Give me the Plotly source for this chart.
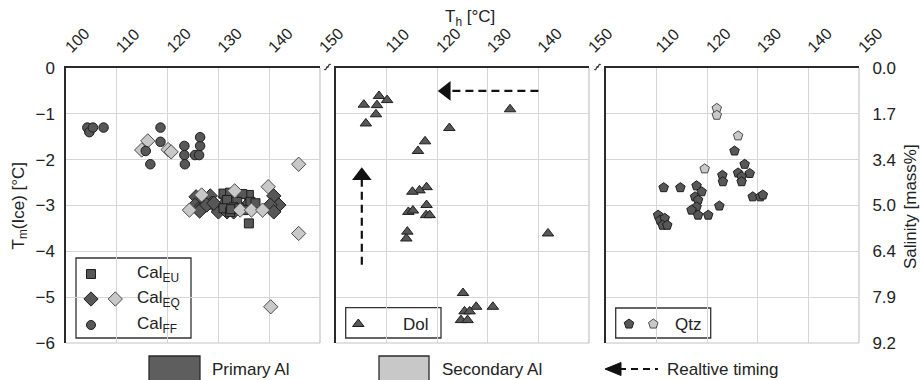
import plotly.graph_objects as go

# ---------------- data ----------------
# Panel 1: Calcite
cal_eu_x = [131.0, 132.3, 136.0, 134.7, 131.7, 133.7, 136.3, 137.3, 131.0, 133.0, 135.0, 136.0, 132.3, 132.5, 134.1]
cal_eu_y = [-2.74, -2.72, -2.77, -2.75, -2.88, -2.92, -2.92, -2.95, -3.06, -3.04, -3.10, -3.39, -3.14, -3.08, -3.06]

cal_eq_pri_x = [125.6, 126.4, 125.4, 126.1, 128.4, 128.7, 127.1, 130.0, 131.4, 131.0, 131.7, 133.0, 135.3, 140.9, 141.9, 140.2, 140.9, 126.3, 127.7, 129.1]
cal_eq_pri_y = [-2.81, -2.95, -2.99, -3.08, -2.79, -2.95, -3.03, -3.14, -2.81, -2.99, -3.14, -3.14, -3.03, -2.79, -2.99, -2.99, -3.14, -3.12, -2.99, -2.95]

cal_eq_sec_x = [116.1, 114.9, 120.1, 120.7, 145.8, 139.8, 145.8, 140.3, 124.3, 133.2, 134.3, 136.5, 138.7, 126.7]
cal_eq_sec_y = [-1.59, -1.79, -1.78, -1.83, -2.10, -2.59, -3.61, -5.21, -3.10, -2.68, -3.10, -3.10, -3.10, -2.77]

cal_ff_x = [104.2, 104.6, 105.3, 107.4, 115.7, 116.6, 118.6, 118.6, 123.3, 123.3, 123.4, 125.4, 126.2, 126.4, 126.4]
cal_ff_y = [-1.30, -1.40, -1.30, -1.30, -1.81, -2.10, -1.30, -1.61, -1.70, -1.90, -2.10, -1.90, -1.90, -1.70, -1.51]

# Panel 2: Dolomite
dol_x = [105.5, 108.5, 108.1, 110.1, 107.9, 105.9, 134.4, 122.4, 117.6, 116.2, 117.9, 116.5, 115.1,
         114.3, 115.2, 117.9, 117.8, 118.5, 114.1, 113.9, 141.9, 125.1, 127.7, 131.0, 125.4, 126.4, 124.7, 126.0]
dol_y = [-0.80, -0.61, -0.81, -0.70, -1.01, -1.21, -0.90, -1.31, -1.60, -1.81, -2.60, -2.67, -2.70,
         -3.14, -3.11, -2.99, -3.21, -3.21, -3.57, -3.72, -3.61, -4.91, -5.21, -5.21, -5.31, -5.31, -5.50, -5.50]

# Panel 3: Quartz
qtz_pri_x = [125.4, 127.4, 126.1, 128.4, 126.8, 126.8, 123.0, 123.1, 111.4, 114.7, 117.9, 118.9, 117.6, 118.2,
             117.9, 116.9, 118.2, 120.2, 122.4, 129.0, 130.5, 131.0, 110.3, 110.7, 111.6, 111.2, 112.1]
qtz_pri_y = [-1.81, -2.10, -2.29, -2.30, -2.37, -2.48, -2.34, -2.48, -2.61, -2.61, -2.57, -2.70, -2.81, -2.88,
             -3.03, -3.10, -3.21, -3.21, -3.01, -2.81, -2.81, -2.77, -3.21, -3.32, -3.28, -3.43, -3.43]
qtz_sec_x = [121.9, 121.9, 126.1, 119.5]
qtz_sec_y = [-0.88, -1.03, -1.48, -2.20]

# Axes / ticks
y_ticks = [0, -1, -2, -3, -4, -5, -6]
y_ticktext = ["0", "−1", "−2", "−3", "−4", "−5", "−6"]
salinity_ticktext = ["0.0", "1.7", "3.4", "5.0", "6.4", "7.9", "9.2"]
x_ticks_first = [100, 110, 120, 130, 140, 150]
x_ticks_other = [110, 120, 130, 140, 150]

# Relative timing arrows (panel 2): [x_start, x_end], [y_start, y_end]
arrow_h_x = [140.0, 121.8]
arrow_h_y = [-0.50, -0.50]
arrow_v_x = [105.1, 105.1]
arrow_v_y = [-4.29, -2.35]

# ---------------- style ----------------
DARK = "#575757"
DARK_EDGE = "#1e1e1e"
LIGHT = "#c8c8c8"
LIGHT_EDGE = "#4a4a4a"
TXT = "#222222"
GRID = "#d6d6d6"
FONT = "Liberation Sans"

W, H = 920, 380
L, R, T, B = 66, 61, 68, 37
PW = W - L - R  # 793
PH = H - T - B  # 275
panel_px = [(66, 320), (336, 589), (606, 859)]


def px2x(panel, px):
    a, b = panel_px[panel]
    return 100 + (px - a) * 50.0 / (b - a)


def py2y(py):
    return -(py - T) * 6.0 / PH


def ppx(px):
    return (px - L) / PW


def ppy(py):
    return (H - B - py) / PH


fig = go.Figure()


def add_scatter(x, y, panel, symbol, size, fill, edge, lw=1.0):
    fig.add_trace(go.Scatter(
        x=x, y=y, mode="markers",
        xaxis="x" if panel == 0 else f"x{panel+1}",
        yaxis="y" if panel == 0 else f"y{panel+1}",
        marker=dict(symbol=symbol, size=size, color=fill, line=dict(color=edge, width=lw)),
        showlegend=False, hoverinfo="skip"))


# data marks
add_scatter(cal_eq_pri_x, cal_eq_pri_y, 0, "diamond", 11, DARK, DARK_EDGE)
add_scatter(cal_eu_x, cal_eu_y, 0, "square", 9, DARK, DARK_EDGE)
add_scatter(cal_eq_sec_x, cal_eq_sec_y, 0, "diamond", 11, LIGHT, LIGHT_EDGE)
add_scatter(cal_ff_x, cal_ff_y, 0, "circle", 9.5, DARK, DARK_EDGE)
add_scatter(dol_x, dol_y, 1, "triangle-up", 10, DARK, DARK_EDGE)
add_scatter(qtz_pri_x, qtz_pri_y, 2, "pentagon", 10, DARK, DARK_EDGE)
add_scatter(qtz_sec_x, qtz_sec_y, 2, "pentagon", 10, LIGHT, LIGHT_EDGE)

# relative-timing arrows in panel 2
fig.add_trace(go.Scatter(x=arrow_h_x, y=arrow_h_y, mode="lines", xaxis="x2", yaxis="y2",
                         line=dict(color="#111", width=2.2, dash="8px,5px"), showlegend=False, hoverinfo="skip"))
fig.add_trace(go.Scatter(x=[arrow_h_x[1]], y=[arrow_h_y[1]], mode="markers", xaxis="x2", yaxis="y2",
                         marker=dict(symbol="triangle-left", size=17, color="#111", line=dict(width=0)),
                         showlegend=False, hoverinfo="skip"))
fig.add_trace(go.Scatter(x=arrow_v_x, y=arrow_v_y, mode="lines", xaxis="x2", yaxis="y2",
                         line=dict(color="#111", width=2.2, dash="8px,5px"), showlegend=False, hoverinfo="skip"))
fig.add_trace(go.Scatter(x=[arrow_v_x[1]], y=[arrow_v_y[1]], mode="markers", xaxis="x2", yaxis="y2",
                         marker=dict(symbol="triangle-up", size=17, color="#111", line=dict(width=0)),
                         showlegend=False, hoverinfo="skip"))

# in-panel legend symbols
add_scatter([px2x(0, 91)], [py2y(274)], 0, "square", 9, DARK, DARK_EDGE)
add_scatter([px2x(0, 91)], [py2y(299)], 0, "diamond", 11, DARK, DARK_EDGE)
add_scatter([px2x(0, 115.3)], [py2y(299)], 0, "diamond", 11, LIGHT, LIGHT_EDGE)
add_scatter([px2x(0, 91)], [py2y(325)], 0, "circle", 9, DARK, DARK_EDGE)
add_scatter([px2x(1, 358.3)], [py2y(324)], 1, "triangle-up", 10, DARK, DARK_EDGE)
add_scatter([px2x(2, 629)], [py2y(324)], 2, "pentagon", 10, DARK, DARK_EDGE)
add_scatter([px2x(2, 653.3)], [py2y(324)], 2, "pentagon", 10, LIGHT, LIGHT_EDGE)

# invisible trace for salinity axis
fig.add_trace(go.Scatter(x=[120], y=[-3], mode="markers", xaxis="x3", yaxis="y4",
                         marker=dict(opacity=0), showlegend=False, hoverinfo="skip"))

layout = dict(
    width=W, height=H,
    margin=dict(l=L, r=R, t=T, b=B, pad=0),
    paper_bgcolor="white", plot_bgcolor="white",
    font=dict(family=FONT, size=16, color=TXT),
    showlegend=False,
)

ann = []

for i, (a, b) in enumerate(panel_px):
    xs = "xaxis" if i == 0 else f"xaxis{i+1}"
    ys = "yaxis" if i == 0 else f"yaxis{i+1}"
    yn = "y" if i == 0 else f"y{i+1}"
    xn = "x" if i == 0 else f"x{i+1}"
    tv = x_ticks_first if i == 0 else x_ticks_other
    layout[xs] = dict(
        domain=[ppx(a), ppx(b)], range=[100, 150], side="top", anchor=yn,
        tickmode="array", tickvals=tv, ticktext=[str(v) for v in tv],
        tickangle=-45, tickfont=dict(family=FONT, size=16, color=TXT),
        ticks="outside", ticklen=4, tickcolor="rgba(0,0,0,0)",
        showgrid=True, gridcolor=GRID, gridwidth=1,
        showline=True, linecolor="#2a2a2a", linewidth=1.5,
        zeroline=False)
    layout[ys] = dict(
        domain=[0, 1], range=[-6, 0], anchor=xn,
        tickvals=y_ticks, ticktext=y_ticktext, showticklabels=(i == 0),
        tickfont=dict(family=FONT, size=17, color=TXT),
        showgrid=True, gridcolor=GRID, gridwidth=1,
        showline=True, linecolor="#2a2a2a", linewidth=1.5,
        ticks="outside" if i == 0 else "", ticklen=6, tickcolor="rgba(0,0,0,0)",
        zeroline=False)

layout["yaxis4"] = dict(
    overlaying="y3", side="right", anchor="x3", range=[-6, 0],
    tickvals=y_ticks, ticktext=salinity_ticktext, tickfont=dict(family=FONT, size=17, color=TXT),
    showgrid=False, showline=False, zeroline=False,
    ticks="outside", ticklen=9, tickcolor="rgba(0,0,0,0)")

shapes = []
# gray right & bottom frame for each panel
for i, (a, b) in enumerate(panel_px):
    shapes.append(dict(type="line", xref="paper", yref="paper", x0=ppx(b), x1=ppx(b), y0=0, y1=1,
                       line=dict(color="#c4c4c4", width=1.2), layer="below"))
    shapes.append(dict(type="line", xref="paper", yref="paper", x0=ppx(a), x1=ppx(b), y0=0, y1=0,
                       line=dict(color="#c4c4c4", width=1.2), layer="below"))

# in-panel legend boxes
for (x0, x1, y0, y1) in [(76, 191, 258, 338), (345.7, 441, 307.7, 338), (615.7, 710.7, 308, 338)]:
    shapes.append(dict(type="rect", xref="paper", yref="paper",
                       x0=ppx(x0), x1=ppx(x1), y0=ppy(y1), y1=ppy(y0),
                       line=dict(color="#333", width=1.3), fillcolor="white", layer="between"))

# axis-break squiggles at top
for cx in [327.5, 597.5]:
    x0, x1 = ppx(cx - 3), ppx(cx + 3)
    xm = ppx(cx)
    path = (f"M {x0},{ppy(69)} C {ppx(cx-1.5)},{ppy(72)} {ppx(cx-0.5)},{ppy(65)} {xm},{ppy(67)} "
            f"C {ppx(cx+0.5)},{ppy(69)} {ppx(cx+1.5)},{ppy(62)} {x1},{ppy(65)}")
    shapes.append(dict(type="path", xref="paper", yref="paper", path=path,
                       line=dict(color="#333", width=1.2)))

# bottom legend boxes
shapes.append(dict(type="rect", xref="paper", yref="paper", x0=ppx(149), x1=ppx(200), y0=ppy(384), y1=ppy(356),
                   line=dict(color="#2a2a2a", width=1.3), fillcolor="#5e5e5e"))
shapes.append(dict(type="rect", xref="paper", yref="paper", x0=ppx(379), x1=ppx(429), y0=ppy(384), y1=ppy(356),
                   line=dict(color="#2a2a2a", width=1.3), fillcolor="#c8c8c8"))
# bottom legend arrow
shapes.append(dict(type="line", xref="paper", yref="paper", x0=ppx(619), x1=ppx(658), y0=ppy(369), y1=ppy(369),
                   line=dict(color="#111", width=2.2, dash="7px,5px")))
shapes.append(dict(type="path", xref="paper", yref="paper",
                   path=f"M {ppx(605)},{ppy(369)} L {ppx(621)},{ppy(362.5)} L {ppx(621)},{ppy(375.5)} Z",
                   fillcolor="#111", line=dict(color="#111", width=1)))
layout["shapes"] = shapes


def add_text(text, px, py, size=17, xanchor="left", yanchor="middle", angle=0):
    ann.append(dict(text=text, x=ppx(px), y=ppy(py), xref="paper", yref="paper", showarrow=False,
                    xanchor=xanchor, yanchor=yanchor, textangle=angle,
                    font=dict(family=FONT, size=size, color=TXT)))


add_text("T<sub>h</sub> [°C]", 470, 18, 17, xanchor="center")
add_text("T<sub>m</sub>(Ice) [°C]", 19, 205.5, 17, xanchor="center", angle=-90)
add_text("Salinity [mass%]", 911, 207, 17, xanchor="center", angle=-90)
add_text("Cal<sub>EU</sub>", 135, 274)
add_text("Cal<sub>EQ</sub>", 135, 299)
add_text("Cal<sub>FF</sub>", 135, 325)
add_text("Dol", 431, 324, xanchor="right")
add_text("Qtz", 673, 324)
add_text("Primary Al", 210, 369)
add_text("Secondary Al", 440, 369)
add_text("Realtive timing", 665, 369)
layout["annotations"] = ann

fig.update_layout(**layout)
fig.write_html("out.html")
